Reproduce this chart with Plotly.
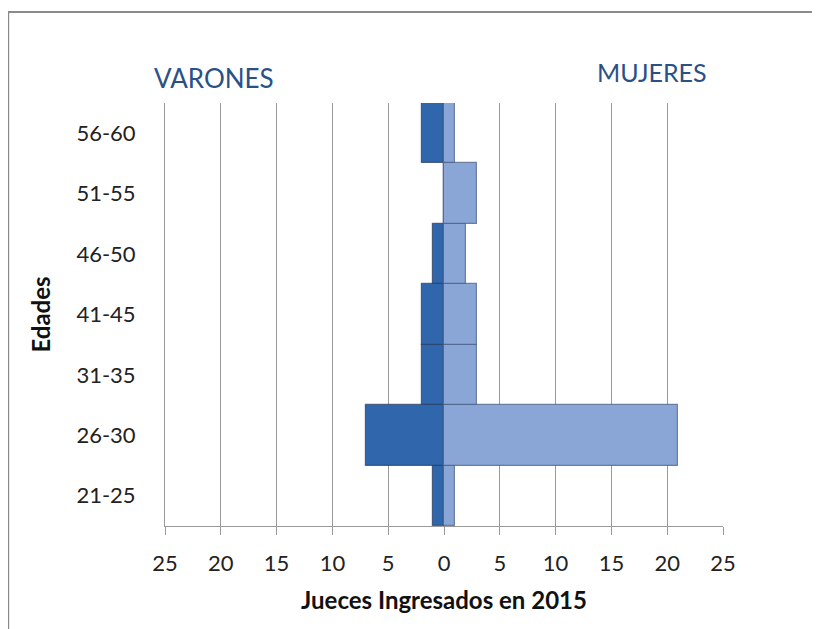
import plotly.graph_objects as go

# age groups, bottom to top
edades = ["21-25", "26-30", "31-35", "41-45", "46-50", "51-55", "56-60"]
varones = [1, 7, 2, 2, 1, 0, 2]
mujeres = [1, 21, 3, 3, 2, 3, 1]
tick_vals = [-25, -20, -15, -10, -5, 0, 5, 10, 15, 20, 25]
tick_text = [str(abs(v)) for v in tick_vals]

font_family = "Lato, Calibri, Carlito, sans-serif"

fig = go.Figure(
    data=[
        go.Bar(
            y=edades,
            x=[-v for v in varones],
            orientation="h",
            name="Varones",
            marker=dict(color="#2F66AC", line=dict(color="rgba(40,60,100,0.7)", width=1.2)),
            customdata=varones,
            hovertemplate="%{y}: %{customdata}<extra>Varones</extra>",
        ),
        go.Bar(
            y=edades,
            x=mujeres,
            orientation="h",
            name="Mujeres",
            marker=dict(color="#8AA6D6", line=dict(color="rgba(70,90,130,0.7)", width=1.2)),
            hovertemplate="%{y}: %{x}<extra>Mujeres</extra>",
        ),
    ]
)

# the page body adds an 8px offset, margins are set with that in mind
fig.update_layout(
    width=820,
    height=629,
    margin=dict(l=157, r=105, t=95, b=111),
    paper_bgcolor="white",
    plot_bgcolor="white",
    barmode="overlay",
    bargap=0,
    showlegend=False,
    font=dict(family=font_family, size=22, color="#222222"),
    xaxis=dict(
        range=[-25, 25],
        tickvals=tick_vals,
        ticktext=tick_text,
        showgrid=True,
        gridcolor="#9a9a9a",
        gridwidth=1,
        zeroline=False,
        showline=True,
        linecolor="#9a9a9a",
        ticks="outside",
        ticklen=8,
        tickcolor="#9a9a9a",
        ticklabelstandoff=10,
        title=dict(text="<b>Jueces Ingresados en 2015</b>", font=dict(size=24, color="#111111"), standoff=16),
    ),
    yaxis=dict(
        showgrid=False,
        zeroline=False,
        showline=True,
        linecolor="#9a9a9a",
        ticks="",
        ticklabelstandoff=24,
        title=dict(text="<b>Edades</b>", font=dict(size=24, color="#111111"), standoff=18),
    ),
    annotations=[
        dict(text="VARONES", x=-20.6, xref="x", y=1.059, yref="paper", yanchor="middle",
             showarrow=False, font=dict(size=26, color="#2A5088")),
        dict(text="MUJERES", x=18.6, xref="x", y=1.073, yref="paper", yanchor="middle",
             showarrow=False, font=dict(size=25, color="#2A5088")),
    ],
    shapes=[
        dict(type="rect", xref="paper", yref="paper", x0=-0.281, x1=1.3, y0=-0.4, y1=1.215,
             line=dict(color="#8a8a8a", width=2), fillcolor="rgba(0,0,0,0)", layer="below"),
    ],
)

fig.write_html("out.html")
